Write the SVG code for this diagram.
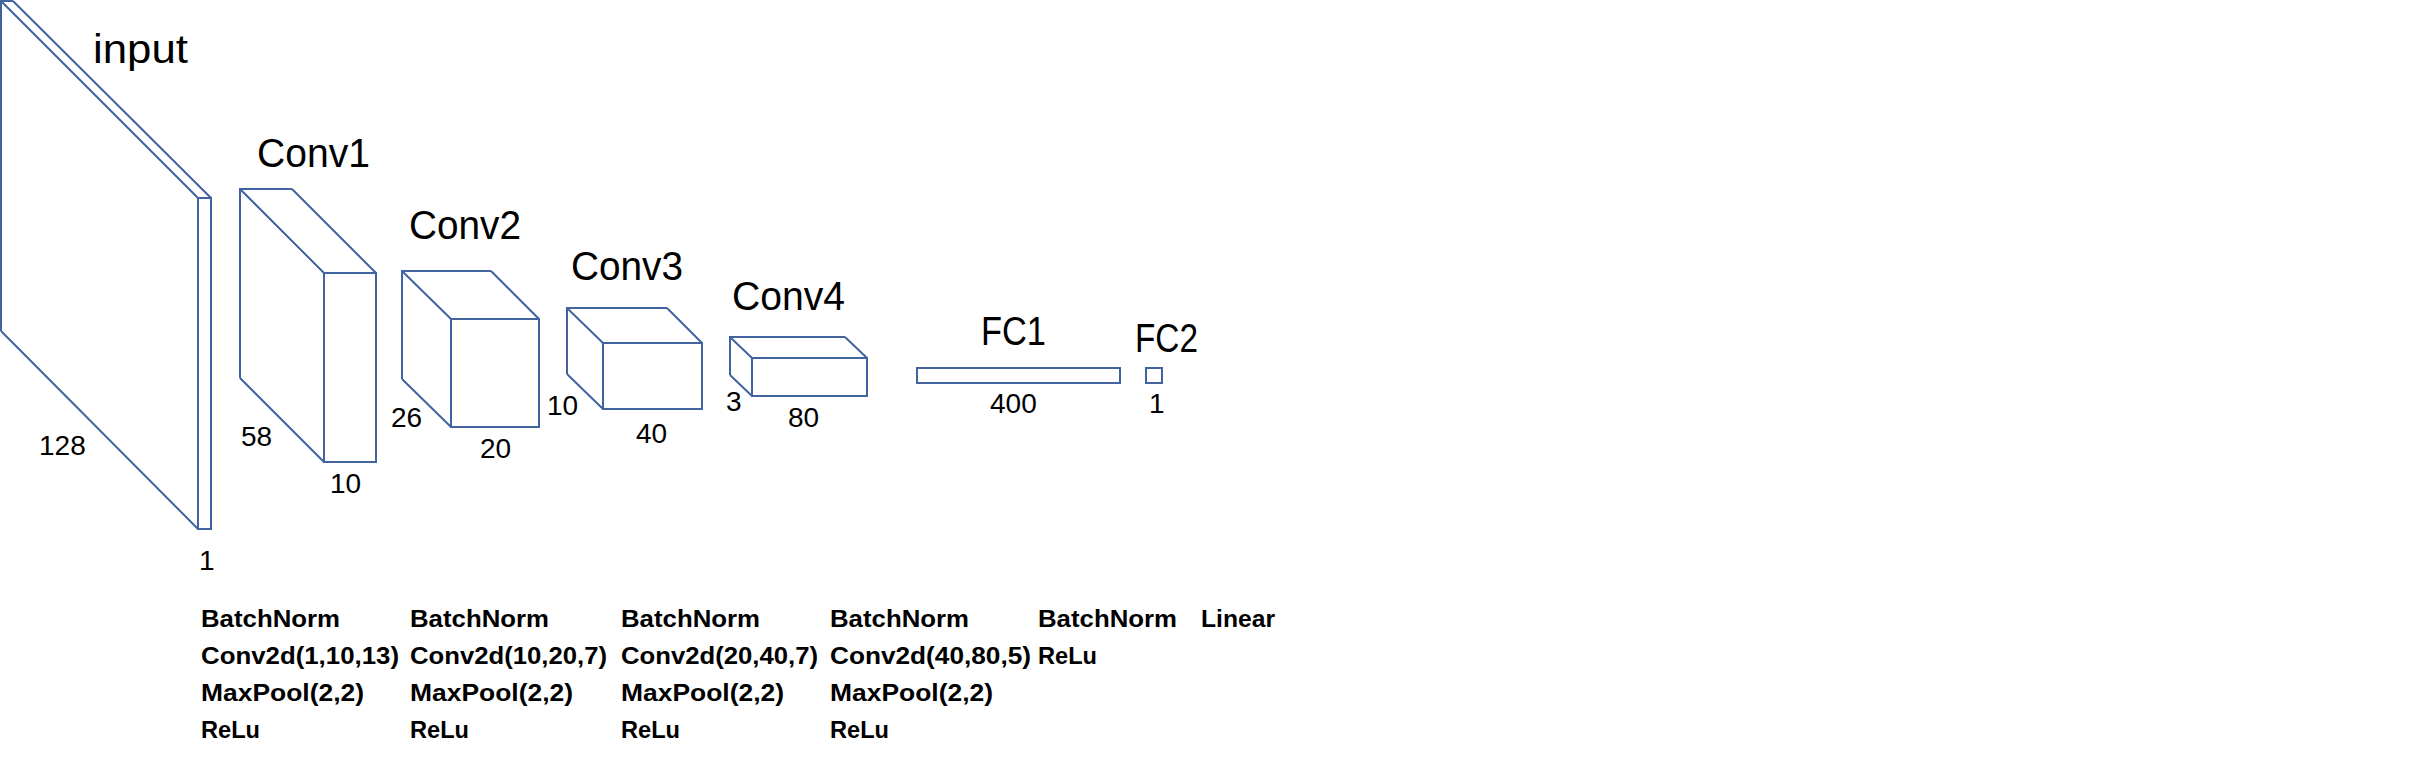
<svg xmlns="http://www.w3.org/2000/svg" width="2423" height="769" viewBox="0 0 2423 769">
<style>
.edge{fill:none;stroke:#41639f;stroke-width:2;stroke-linejoin:miter}
.face{fill:#ffffff;stroke:#41639f;stroke-width:2}
.title{font-family:"Liberation Sans",Arial,sans-serif;font-size:40px;fill:#000}
.dim{font-family:"Liberation Sans",Arial,sans-serif;font-size:28px;fill:#000}
.op{font-family:"Liberation Sans",Arial,sans-serif;font-size:23px;font-weight:bold;fill:#000}
</style>
<rect x="0" y="0" width="2423" height="769" fill="#ffffff"/>
<g id="connectors"/>
<g id="input">
<path class="edge" d="M1,331 L1,1 L13,1 M1,1 L198,198 M13,1 L211,198 M1,331 L198,529"/>
<rect class="face" x="198" y="198" width="13" height="331"/>
<text class="title" x="93" y="63" textLength="95" lengthAdjust="spacingAndGlyphs">input</text>
<text class="dim" x="39" y="455">128</text>
<text class="dim" x="199" y="570">1</text>
</g>
<g id="conv1">
<path class="edge" d="M240,378 L240,189 L292,189 M240,189 L324,273 M292,189 L376,273 M240,378 L324,462"/>
<rect class="face" x="324" y="273" width="52" height="189"/>
<text class="title" x="257" y="167" textLength="113" lengthAdjust="spacingAndGlyphs">Conv1</text>
<text class="dim" x="241" y="446">58</text>
<text class="dim" x="330" y="493">10</text>
</g>
<g id="conv2">
<path class="edge" d="M402,379 L402,271 L491,271 M402,271 L451,319 M491,271 L539,319 M402,379 L451,427"/>
<rect class="face" x="451" y="319" width="88" height="108"/>
<text class="title" x="409" y="239" textLength="112" lengthAdjust="spacingAndGlyphs">Conv2</text>
<text class="dim" x="391" y="427">26</text>
<text class="dim" x="480" y="458">20</text>
</g>
<g id="conv3">
<path class="edge" d="M567,374 L567,308 L667,308 M567,308 L603,343 M667,308 L702,343 M567,374 L603,409"/>
<rect class="face" x="603" y="343" width="99" height="66"/>
<text class="title" x="571" y="280" textLength="112" lengthAdjust="spacingAndGlyphs">Conv3</text>
<text class="dim" x="547" y="415">10</text>
<text class="dim" x="636" y="443">40</text>
</g>
<g id="conv4">
<path class="edge" d="M730,375 L730,337 L845,337 M730,337 L752,358 M845,337 L867,358 M730,375 L752,396"/>
<rect class="face" x="752" y="358" width="115" height="38"/>
<text class="title" x="732" y="310" textLength="113" lengthAdjust="spacingAndGlyphs">Conv4</text>
<text class="dim" x="726" y="411">3</text>
<text class="dim" x="788" y="427">80</text>
</g>
<g id="fc1">
<rect class="face" x="917" y="368" width="203" height="15"/>
<text class="title" x="981" y="345" textLength="65" lengthAdjust="spacingAndGlyphs">FC1</text>
<text class="dim" x="990" y="413">400</text>
</g>
<g id="fc2">
<rect class="face" x="1146" y="368" width="16" height="15"/>
<text class="title" x="1135" y="352" textLength="63" lengthAdjust="spacingAndGlyphs">FC2</text>
<text class="dim" x="1149" y="413">1</text>
</g>
<g id="ops">
<text class="op" x="201" y="627" textLength="139" lengthAdjust="spacingAndGlyphs">BatchNorm</text>
<text class="op" x="201" y="664" textLength="198" lengthAdjust="spacingAndGlyphs">Conv2d(1,10,13)</text>
<text class="op" x="201" y="701" textLength="163" lengthAdjust="spacingAndGlyphs">MaxPool(2,2)</text>
<text class="op" x="201" y="738" textLength="59" lengthAdjust="spacingAndGlyphs">ReLu</text>
<text class="op" x="410" y="627" textLength="139" lengthAdjust="spacingAndGlyphs">BatchNorm</text>
<text class="op" x="410" y="664" textLength="197" lengthAdjust="spacingAndGlyphs">Conv2d(10,20,7)</text>
<text class="op" x="410" y="701" textLength="163" lengthAdjust="spacingAndGlyphs">MaxPool(2,2)</text>
<text class="op" x="410" y="738" textLength="59" lengthAdjust="spacingAndGlyphs">ReLu</text>
<text class="op" x="621" y="627" textLength="139" lengthAdjust="spacingAndGlyphs">BatchNorm</text>
<text class="op" x="621" y="664" textLength="197" lengthAdjust="spacingAndGlyphs">Conv2d(20,40,7)</text>
<text class="op" x="621" y="701" textLength="163" lengthAdjust="spacingAndGlyphs">MaxPool(2,2)</text>
<text class="op" x="621" y="738" textLength="59" lengthAdjust="spacingAndGlyphs">ReLu</text>
<text class="op" x="830" y="627" textLength="139" lengthAdjust="spacingAndGlyphs">BatchNorm</text>
<text class="op" x="830" y="664" textLength="201" lengthAdjust="spacingAndGlyphs">Conv2d(40,80,5)</text>
<text class="op" x="830" y="701" textLength="163" lengthAdjust="spacingAndGlyphs">MaxPool(2,2)</text>
<text class="op" x="830" y="738" textLength="59" lengthAdjust="spacingAndGlyphs">ReLu</text>
<text class="op" x="1038" y="627" textLength="139" lengthAdjust="spacingAndGlyphs">BatchNorm</text>
<text class="op" x="1038" y="664" textLength="59" lengthAdjust="spacingAndGlyphs">ReLu</text>
<text class="op" x="1201" y="627" textLength="74" lengthAdjust="spacingAndGlyphs">Linear</text>
</g>
</svg>
